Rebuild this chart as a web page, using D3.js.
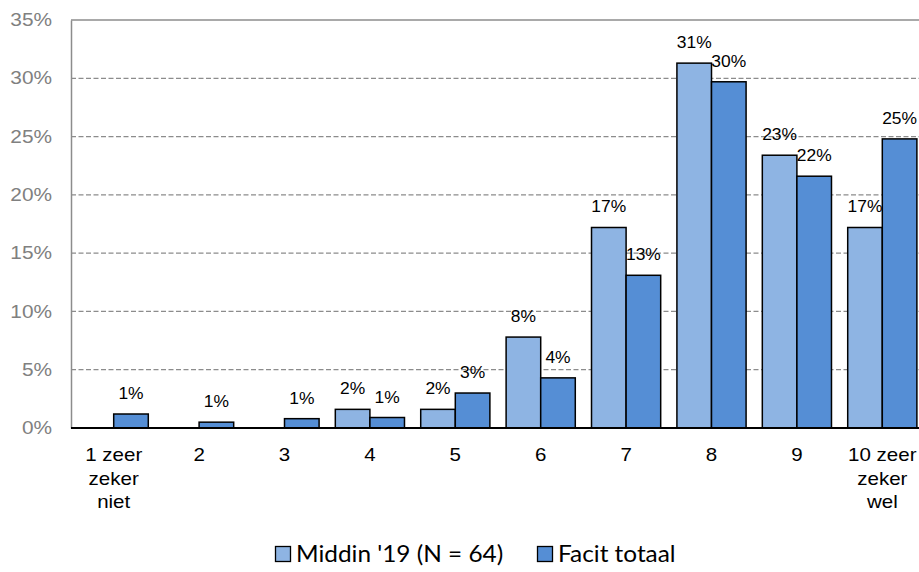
<!DOCTYPE html>
<html><head><meta charset="utf-8">
<script src="https://cdn.jsdelivr.net/npm/d3@7"></script>
<style>body{margin:0;background:#fff}svg{display:block}</style>
</head><body>
<svg id="c" width="919" height="572"></svg>
<script>
const categories = [["1 zeer","zeker","niet"],["2"],["3"],["4"],["5"],["6"],["7"],["8"],["9"],["10 zeer","zeker","wel"]];
const seriesNames = ["Middin '19 (N = 64)", "Facit totaal"];
const middin = [0, 0, 0, 1.6, 1.6, 7.8, 17.2, 31.3, 23.4, 17.2];
const facit = [1.2, 0.5, 0.8, 0.9, 3.0, 4.3, 13.1, 29.7, 21.6, 24.8];
const yTicks = [0, 5, 10, 15, 20, 25, 30, 35];
const colors = ["#8EB4E3", "#558ED5"];

(function(){
const svg = d3.select("#c");
const pL = 71, pR = 925, pT = 20, pB = 428;
const FONT = "'Liberation Sans', Arial, sans-serif";
const x = d3.scaleBand().domain(d3.range(categories.length)).range([pL, pR]).paddingInner(0.19).paddingOuter(0.095);
const xs = d3.scaleBand().domain([0,1]).range([0, x.bandwidth()]);
const y = d3.scaleLinear().domain([0, 35]).range([pB, pT]);

function stext(parent, tx, ty, sx, str, anchor, size, fill, fam) {
  return parent.append("text")
    .attr("transform", `translate(${tx},${ty}) scale(${sx},1)`)
    .attr("text-anchor", anchor).attr("fill", fill)
    .style("font-family", fam || FONT).style("font-size", size + "px")
    .text(str);
}

svg.append("g").selectAll("line").data(yTicks.filter(d => d > 0)).join("line")
  .attr("x1", pL).attr("x2", 919).attr("y1", d => y(d)).attr("y2", d => y(d))
  .attr("stroke", "#8c8c8c").attr("stroke-width", 1.3)
  .attr("stroke-dasharray", d => d === 35 ? null : "5,2.5");

// y axis via d3 axis (domain line), labels stretched
const yAxis = d3.axisLeft(y).tickValues(yTicks).tickFormat("").tickSize(0);
const ga = svg.append("g").attr("transform", `translate(${pL},0)`).call(yAxis);
ga.select(".domain").attr("stroke", "#8c8c8c").attr("stroke-width", 1.5);
const yl = svg.append("g");
yTicks.forEach(t => stext(yl, 52, y(t) + 6.2, 1.19, t + "%", "end", 17.5, "#808080"));

const series = [middin, facit];
series.forEach((vals, si) => {
  const g = svg.append("g");
  vals.forEach((v, i) => {
    if (v <= 0) return;
    const bx = x(i) + xs(si), bw = xs.bandwidth();
    g.append("rect").attr("x", bx).attr("y", y(v)).attr("width", bw).attr("height", y(0) - y(v))
      .attr("fill", colors[si]).attr("stroke", "#000").attr("stroke-width", 1.5);
    stext(g, bx + bw / 2, y(v) - 15, 1.09, Math.round(v) + "%", "middle", 16, "#000");
  });
});

svg.append("line").attr("x1", pL).attr("x2", 919).attr("y1", pB).attr("y2", pB)
  .attr("stroke", "#000").attr("stroke-width", 2);

const cl = svg.append("g");
categories.forEach((lines, i) => {
  lines.forEach((l, k) => {
    stext(cl, x(i) + x.bandwidth() / 2, 461 + k * 23.5, 1.14, l, "middle", 18, "#000");
  });
});

const lg = svg.append("g");
const lx = [275, 537];
seriesNames.forEach((n, i) => {
  lg.append("rect").attr("x", lx[i] + 0.5).attr("y", 546.5).attr("width", 15).attr("height", 15)
    .attr("fill", colors[i]).attr("stroke", "#000").attr("stroke-width", 1.3);
  stext(lg, lx[i] + 21, 562, 1.06, n, "start", 23, "#000", "Lato, 'Open Sans', sans-serif");
});
})();
</script>
</body></html>
